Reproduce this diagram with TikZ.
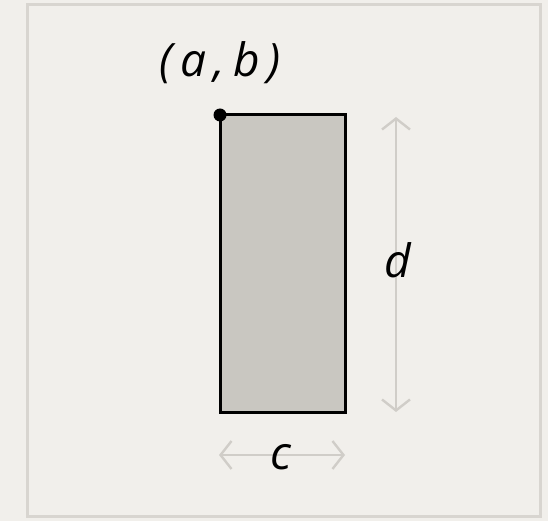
\documentclass[tikz,border=0pt]{standalone}
\usepackage{fontspec}
\setmainfont{Open Sans}
\usetikzlibrary{arrows.meta}
\definecolor{paper}{HTML}{F1EFEB}
\definecolor{framec}{HTML}{D8D5D0}
\definecolor{boxfill}{HTML}{C9C7C1}
\definecolor{dimc}{HTML}{D0CDC8}
\tikzset{
  dimline/.style={draw=dimc, line width=2.4pt, {Straight Barb[length=11pt,width=28pt,line width=2.4pt]}-{Straight Barb[length=11pt,width=28pt,line width=2.4pt]}},
  lbl/.style={font=\fontsize{46}{50}\selectfont\itshape, inner sep=0pt}
}
\begin{document}
\begin{tikzpicture}[x=1pt,y=-1pt]
\fill[paper] (0,0) rectangle (548,521);
\useasboundingbox (0,0) rectangle (548,521);
\draw[framec, line width=3pt] (27,5) rectangle (540,516);
\draw[black, fill=boxfill, line width=3pt] (220,115) rectangle (345,412);
\coordinate (tl) at (220,115);
\fill[black] (tl) circle (6.5pt);
\node[lbl] (ab) at (220,63) {(\,a\,,\,b\,)};
\coordinate (dtop) at (396,117);
\coordinate (dbot) at (396,412);
\draw[dimline] (dtop) -- (dbot);
\node[lbl] (d) at (398,260) {d};
\coordinate (cl) at (219,455);
\coordinate (cr) at (345,455);
\draw[dimline] (cl) -- (cr);
\node[lbl] (c) at (281,457) {c};
\end{tikzpicture}
\end{document}
